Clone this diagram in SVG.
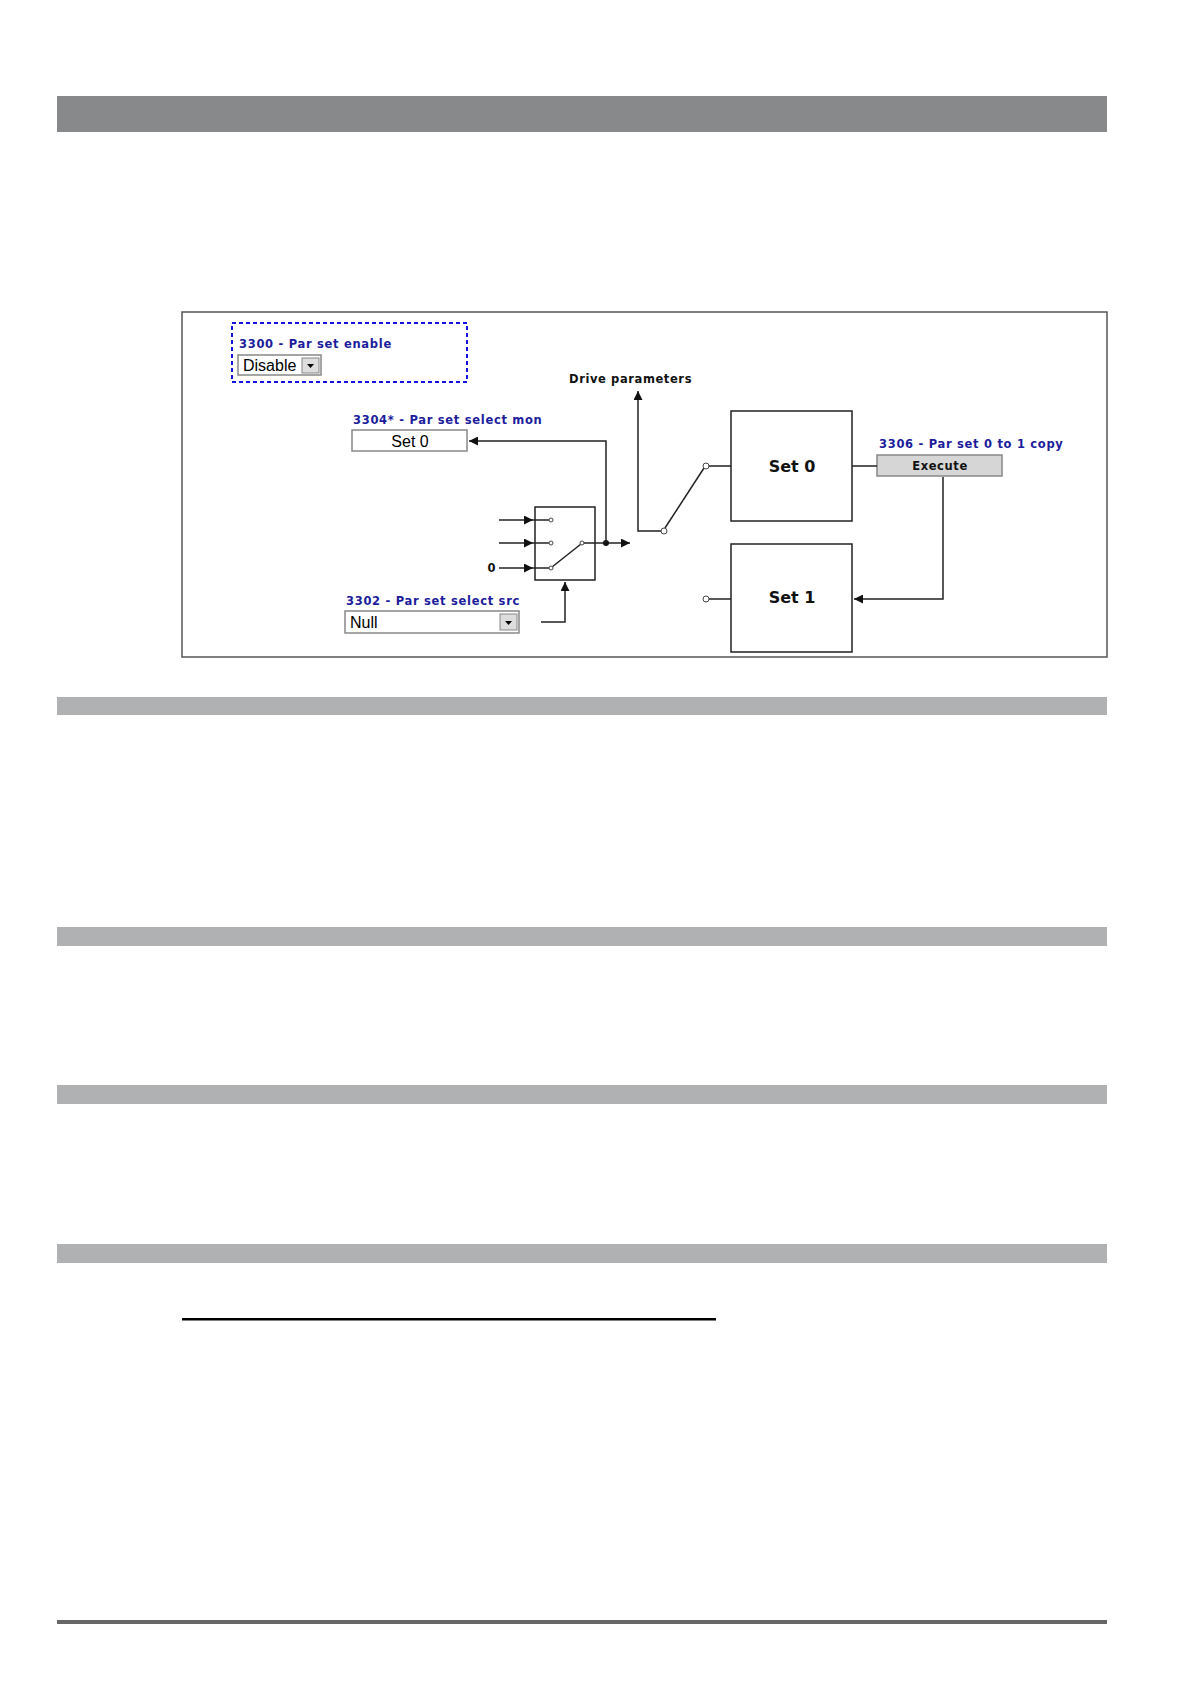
<svg xmlns="http://www.w3.org/2000/svg" width="1191" height="1684" viewBox="0 0 1191 1684">
<style>
.lbl{font-family:"DejaVu Sans",sans-serif;font-weight:bold;font-size:11.5px;letter-spacing:0.7px;fill:#1c1c9c}
.blk{font-family:"DejaVu Sans",sans-serif;font-weight:bold;font-size:11.5px;letter-spacing:0.6px;fill:#111}
.cmb{font-family:"Liberation Sans",Arial,sans-serif;font-size:16px;fill:#000}
.big{font-family:"DejaVu Sans",sans-serif;font-weight:bold;font-size:16px;fill:#111}
.ln{fill:none;stroke:#222;stroke-width:1.5}
.box{fill:#fff;stroke:#222;stroke-width:1.5}
.pin{fill:#fff;stroke:#444;stroke-width:1}
.bar{fill:#b0b1b2}
</style>
<defs>
<marker id="ar" viewBox="0 0 10 10" refX="10" refY="5" markerWidth="13" markerHeight="9" markerUnits="userSpaceOnUse" orient="auto"><path d="M0,0 L10,5 L0,10 z" fill="#111"/></marker>
</defs>
<rect width="1191" height="1684" fill="#fff"/>
<rect x="57" y="96" width="1050" height="36" fill="#88898a"/>
<rect class="bar" x="57" y="697" width="1050" height="18"/>
<rect class="bar" x="57" y="927" width="1050" height="19"/>
<rect class="bar" x="57" y="1085" width="1050" height="19"/>
<rect class="bar" x="57" y="1244" width="1050" height="19"/>
<rect x="182" y="1318" width="534" height="2.5" fill="#000"/>
<rect x="57" y="1620" width="1050" height="4" fill="#666"/>

<rect x="182" y="312" width="925" height="345" fill="#fff" stroke="#555" stroke-width="1.5"/>

<g id="n3300">
<rect x="232" y="323" width="235" height="59" fill="none" stroke="#1414e0" stroke-width="2" stroke-dasharray="4,3"/>
<text class="lbl" x="239" y="348">3300 - Par set enable</text>
<rect x="238" y="355" width="83" height="20" fill="#fff" stroke="#888" stroke-width="1.5"/>
<text class="cmb" x="243" y="371">Disable</text>
<rect x="302" y="358" width="17" height="15" fill="#ddd" stroke="#888"/>
<path d="M307,364 L314,364 L310.5,368 z" fill="#000"/>
</g>

<g id="n3304">
<text class="lbl" x="353" y="424">3304* - Par set select mon</text>
<rect x="352" y="430" width="115" height="21" fill="#fff" stroke="#888" stroke-width="1.5"/>
<text class="cmb" x="410" y="447" text-anchor="middle">Set 0</text>
</g>

<g id="n3302">
<text class="lbl" x="346" y="605">3302 - Par set select src</text>
<rect x="345" y="611" width="174" height="22" fill="#fff" stroke="#888" stroke-width="1.5"/>
<text class="cmb" x="350" y="628">Null</text>
<rect x="500" y="614" width="17" height="16" fill="#ddd" stroke="#888"/>
<path d="M505,621 L512,621 L508.5,625 z" fill="#000"/>
</g>

<g id="mux">
<rect class="box" x="535" y="507" width="60" height="73"/>
<text class="blk" x="496" y="572" text-anchor="end">0</text>
</g>

<g id="set0">
<rect class="box" x="731" y="411" width="121" height="110"/>
<text class="big" x="792" y="472" text-anchor="middle">Set 0</text>
</g>
<g id="set1">
<rect class="box" x="731" y="544" width="121" height="108"/>
<text class="big" x="792" y="603" text-anchor="middle">Set 1</text>
</g>

<g id="n3306">
<text class="lbl" x="879" y="448">3306 - Par set 0 to 1 copy</text>
<rect x="877" y="455" width="125" height="21" fill="#d6d6d6" stroke="#888" stroke-width="1.5"/>
<text class="blk" x="940" y="470" text-anchor="middle">Execute</text>
</g>

<g id="drive">
<text class="blk" x="569" y="383">Drive parameters</text>
</g>

<g id="connectors">
<line class="ln" x1="499" y1="520" x2="533" y2="520" marker-end="url(#ar)"/>
<line class="ln" x1="499" y1="543" x2="533" y2="543" marker-end="url(#ar)"/>
<line class="ln" x1="499" y1="568" x2="533" y2="568" marker-end="url(#ar)"/>
<line class="ln" x1="533" y1="520" x2="549" y2="520"/>
<line class="ln" x1="533" y1="543" x2="549" y2="543"/>
<line class="ln" x1="533" y1="568" x2="549" y2="568"/>
<line class="ln" x1="552" y1="567" x2="581" y2="544"/>
<circle class="pin" cx="551" cy="520" r="2"/>
<circle class="pin" cx="551" cy="543" r="2"/>
<circle class="pin" cx="551" cy="568" r="2"/>
<circle class="pin" cx="582" cy="543" r="2"/>
<line class="ln" x1="584" y1="543" x2="630" y2="543" marker-end="url(#ar)"/>
<circle cx="606" cy="543" r="3" fill="#111"/>
<polyline class="ln" points="606,543 606,441 469,441" marker-end="url(#ar)"/>
<polyline class="ln" points="541,622 565,622 565,582" marker-end="url(#ar)"/>
<polyline class="ln" points="661,531 638,531 638,391" marker-end="url(#ar)"/>
<line class="ln" x1="665" y1="528" x2="704" y2="468"/>
<circle class="pin" cx="664" cy="531" r="3"/>
<circle class="pin" cx="706" cy="466" r="3"/>
<line class="ln" x1="709" y1="466" x2="731" y2="466"/>
<circle class="pin" cx="706" cy="599" r="3"/>
<line class="ln" x1="709" y1="599" x2="731" y2="599"/>
<line class="ln" x1="852" y1="466" x2="877" y2="466"/>
<polyline class="ln" points="943,477 943,599 854,599" marker-end="url(#ar)"/>
</g>
</svg>
